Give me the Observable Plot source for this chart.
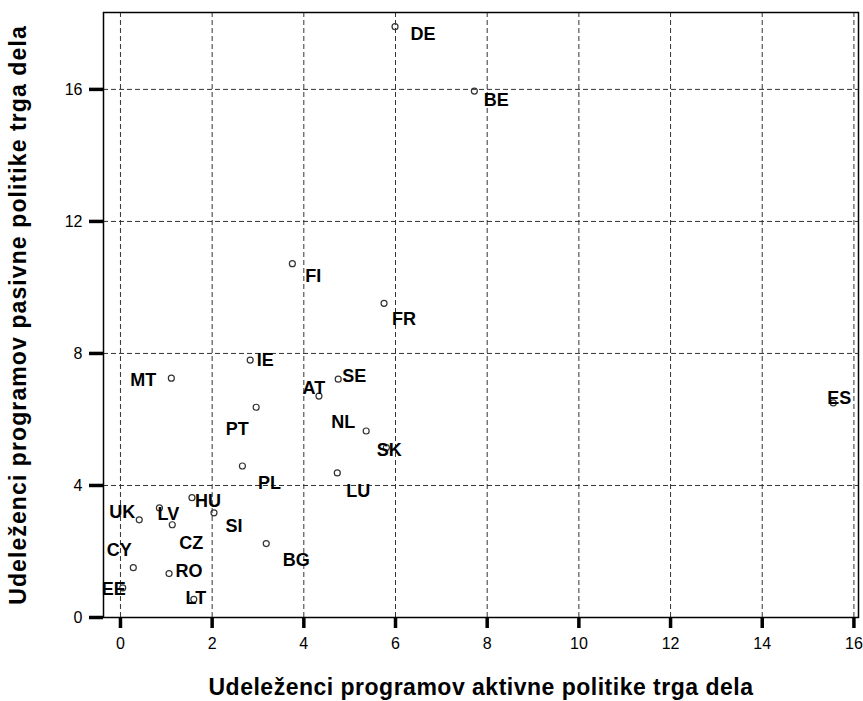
<!DOCTYPE html>
<html>
<head>
<meta charset="utf-8">
<script src="https://cdn.jsdelivr.net/npm/d3@7"></script>
<script src="https://cdn.jsdelivr.net/npm/@observablehq/plot@0.6"></script>
<style>
  html, body { margin: 0; padding: 0; background: #fff; }
  #chart svg { font-family: "Liberation Sans", Arial, sans-serif; display: block; }
  #chart .x-title text { letter-spacing: 0.5px; }
  #chart .y-title text { letter-spacing: 1.1px; }
</style>
</head>
<body>
<div id="chart"></div>
<script>
// Country codes
const countries = ["DE","BE","FI","FR","IE","MT","SE","AT","ES","PT","NL","SK","PL","LU","HU","SI","UK","LV","CZ","CY","RO","BG","EE","LT"];
// Participants in active labour market policy programmes (x)
const activeValues = [5.99,7.72,3.75,5.75,2.83,1.11,4.75,4.33,15.55,2.96,5.36,5.80,2.66,4.73,1.56,2.04,0.41,0.85,1.13,0.28,1.06,3.18,0.05,1.60];
// Participants in passive labour market policy programmes (y)
const passiveValues = [17.9,15.95,10.72,9.52,7.80,7.25,7.22,6.71,6.50,6.37,5.65,5.15,4.59,4.38,3.63,3.17,2.96,3.32,2.81,1.51,1.33,2.24,0.90,0.55];
// Tick labels
const xTicks = [0,2,4,6,8,10,12,14,16];
const yTicks = [0,4,8,12,16];
const xTitle = "Udeleženci programov aktivne politike trga dela";
const yTitle = "Udeleženci programov pasivne politike trga dela";

// Label placement (pixel offsets of each label from its point)
const labelDx = [28,22,21,20,15,-28,16,-5,6,-19,-23,3,27,21,16,20,-17,9,19,-14,20,30,-9,2];
const labelDy = [8,9,13,16,0,2,-3,-8,-5,22,-9,3,17,18,4,13,-8,6,18,-17,-2,17,1,-1];

const data = countries.map((c, i) => ({
  country: c, x: activeValues[i], y: passiveValues[i], dx: labelDx[i], dy: labelDy[i]
}));

const labelMarks = data.map(d => Plot.text([d], {
  x: "x", y: "y", text: "country",
  dx: d.dx, dy: d.dy,
  textAnchor: "middle", lineAnchor: "middle",
  fontSize: 18, fontWeight: "bold", fill: "#000"
}));

const chart = Plot.plot({
  width: 863,
  height: 701,
  marginLeft: 103,
  marginRight: 5,
  marginTop: 12,
  marginBottom: 84,
  x: { domain: [-0.37, 16.1] },
  y: { domain: [0, 18.33] },
  style: { fontFamily: "Liberation Sans, Arial, sans-serif", background: "#fff" },
  marks: [
    Plot.gridX(xTicks, { stroke: "#333", strokeOpacity: 1, strokeWidth: 1, strokeDasharray: "5,3" }),
    Plot.gridY(yTicks, { stroke: "#333", strokeOpacity: 1, strokeWidth: 1, strokeDasharray: "5,3" }),
    Plot.frame({ stroke: "#000", strokeWidth: 1.5 }),
    Plot.axisX(xTicks, { tickSize: 11, tickPadding: 9, strokeWidth: 3.5, stroke: "#000", fontSize: 16, fill: "#000", label: null }),
    Plot.axisY(yTicks, { tickSize: 14, tickPadding: 7, strokeWidth: 3.5, stroke: "#000", fontSize: 16, fill: "#000", label: null }),
    Plot.dot(data, { x: "x", y: "y", r: 3, stroke: "#333", strokeWidth: 1.2, fill: "none" }),
    ...labelMarks,
    Plot.text([xTitle], { className: "x-title", frameAnchor: "bottom", dy: 70, text: d => d, fontSize: 23, fontWeight: "bold", fill: "#000", textAnchor: "middle", lineAnchor: "middle" }),
    Plot.text([yTitle], { className: "y-title", frameAnchor: "left", dx: -85, rotate: -90, text: d => d, fontSize: 23, fontWeight: "bold", fill: "#000", textAnchor: "middle", lineAnchor: "middle" })
  ]
});
document.getElementById("chart").appendChild(chart);
</script>
</body>
</html>
